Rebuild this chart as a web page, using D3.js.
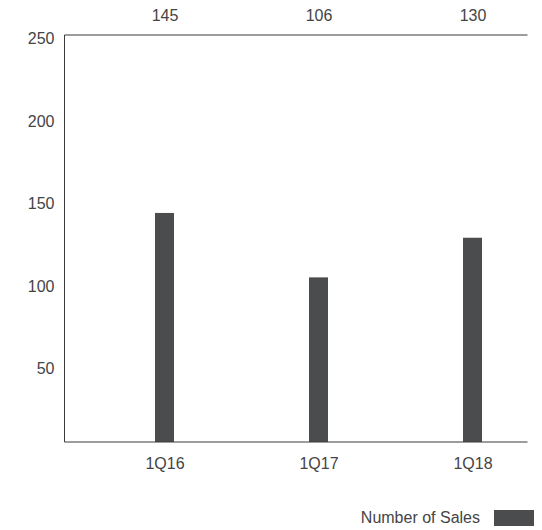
<!DOCTYPE html>
<html>
<head>
<meta charset="utf-8">
<script src="https://cdn.jsdelivr.net/npm/d3@7/dist/d3.min.js"></script>
<style>
html,body{margin:0;padding:0;background:#fff;}
svg{display:block;}
text{font-family:"Liberation Sans",Arial,Helvetica,sans-serif;}
</style>
</head>
<body>
<svg id="chart" width="542" height="530"></svg>
<script>
const categories = ["1Q16", "1Q17", "1Q18"];
const sales = [145, 106, 130];
const yTicks = [50, 100, 150, 200, 250];
const seriesName = "Number of Sales";

const W = 542, H = 530;
const frame = {left: 64.5, right: 527.5, top: 35, bottom: 442};
const barColor = "#4b4c4e";
const textColor = "#444";
const fontSize = 16;

const svg = d3.select("#chart");

const x = d3.scalePoint().domain(categories).range([164.5, 472.5]);
const y = d3.scaleLinear().domain([0, 250]).range([452.5, 39.5]);
const barW = 19;

// bars (clipped to the frame)
svg.append("clipPath").attr("id", "plotclip")
  .append("rect")
  .attr("x", frame.left).attr("y", frame.top)
  .attr("width", frame.right - frame.left).attr("height", frame.bottom - frame.top);

svg.append("g").attr("clip-path", "url(#plotclip)")
  .selectAll("rect").data(categories).join("rect")
  .attr("x", d => x(d) - barW / 2)
  .attr("width", barW)
  .attr("y", (d, i) => y(sales[i]))
  .attr("height", (d, i) => y(0) - y(sales[i]))
  .attr("fill", barColor);

// frame lines
const lineColor = "#3a3a3a";
svg.append("line").attr("x1", frame.left).attr("x2", frame.left)
  .attr("y1", frame.top).attr("y2", frame.bottom)
  .attr("stroke", lineColor).attr("stroke-width", 1);
svg.append("line").attr("x1", frame.left).attr("x2", frame.right)
  .attr("y1", frame.top).attr("y2", frame.top)
  .attr("stroke", lineColor).attr("stroke-width", 1);
svg.append("line").attr("x1", frame.left).attr("x2", frame.right)
  .attr("y1", frame.bottom).attr("y2", frame.bottom)
  .attr("stroke", lineColor).attr("stroke-width", 1);

// y axis
const yAxis = svg.append("g")
  .attr("transform", `translate(${frame.left},0)`)
  .call(d3.axisLeft(y).tickValues(yTicks).tickSize(0).tickPadding(10));
yAxis.select(".domain").remove();
yAxis.selectAll("text")
  .attr("font-size", fontSize).attr("fill", textColor)
  .attr("dy", "0.25em")
  .style("font-family", '"Liberation Sans",Arial,sans-serif');

// x axis
const xAxis = svg.append("g")
  .attr("transform", `translate(0,${frame.bottom})`)
  .call(d3.axisBottom(x).tickSize(0).tickPadding(15.5));
xAxis.select(".domain").remove();
xAxis.selectAll("text")
  .attr("font-size", fontSize).attr("fill", textColor)
  .style("font-family", '"Liberation Sans",Arial,sans-serif');

// value labels on top
const topAxis = svg.append("g")
  .attr("transform", `translate(0,${frame.top})`)
  .call(d3.axisTop(x).tickSize(0).tickPadding(14.5)
    .tickFormat((d, i) => String(sales[categories.indexOf(d)])));
topAxis.select(".domain").remove();
topAxis.selectAll("text")
  .attr("font-size", fontSize).attr("fill", textColor)
  .style("font-family", '"Liberation Sans",Arial,sans-serif');

// legend
const legend = svg.append("g");
legend.append("rect")
  .attr("x", 494).attr("y", 510).attr("width", 40).attr("height", 16)
  .attr("fill", barColor);
legend.append("text")
  .attr("x", 480).attr("y", 523.3)
  .attr("text-anchor", "end")
  .attr("font-size", fontSize).attr("fill", textColor)
  .text(seriesName);
</script>
</body>
</html>
